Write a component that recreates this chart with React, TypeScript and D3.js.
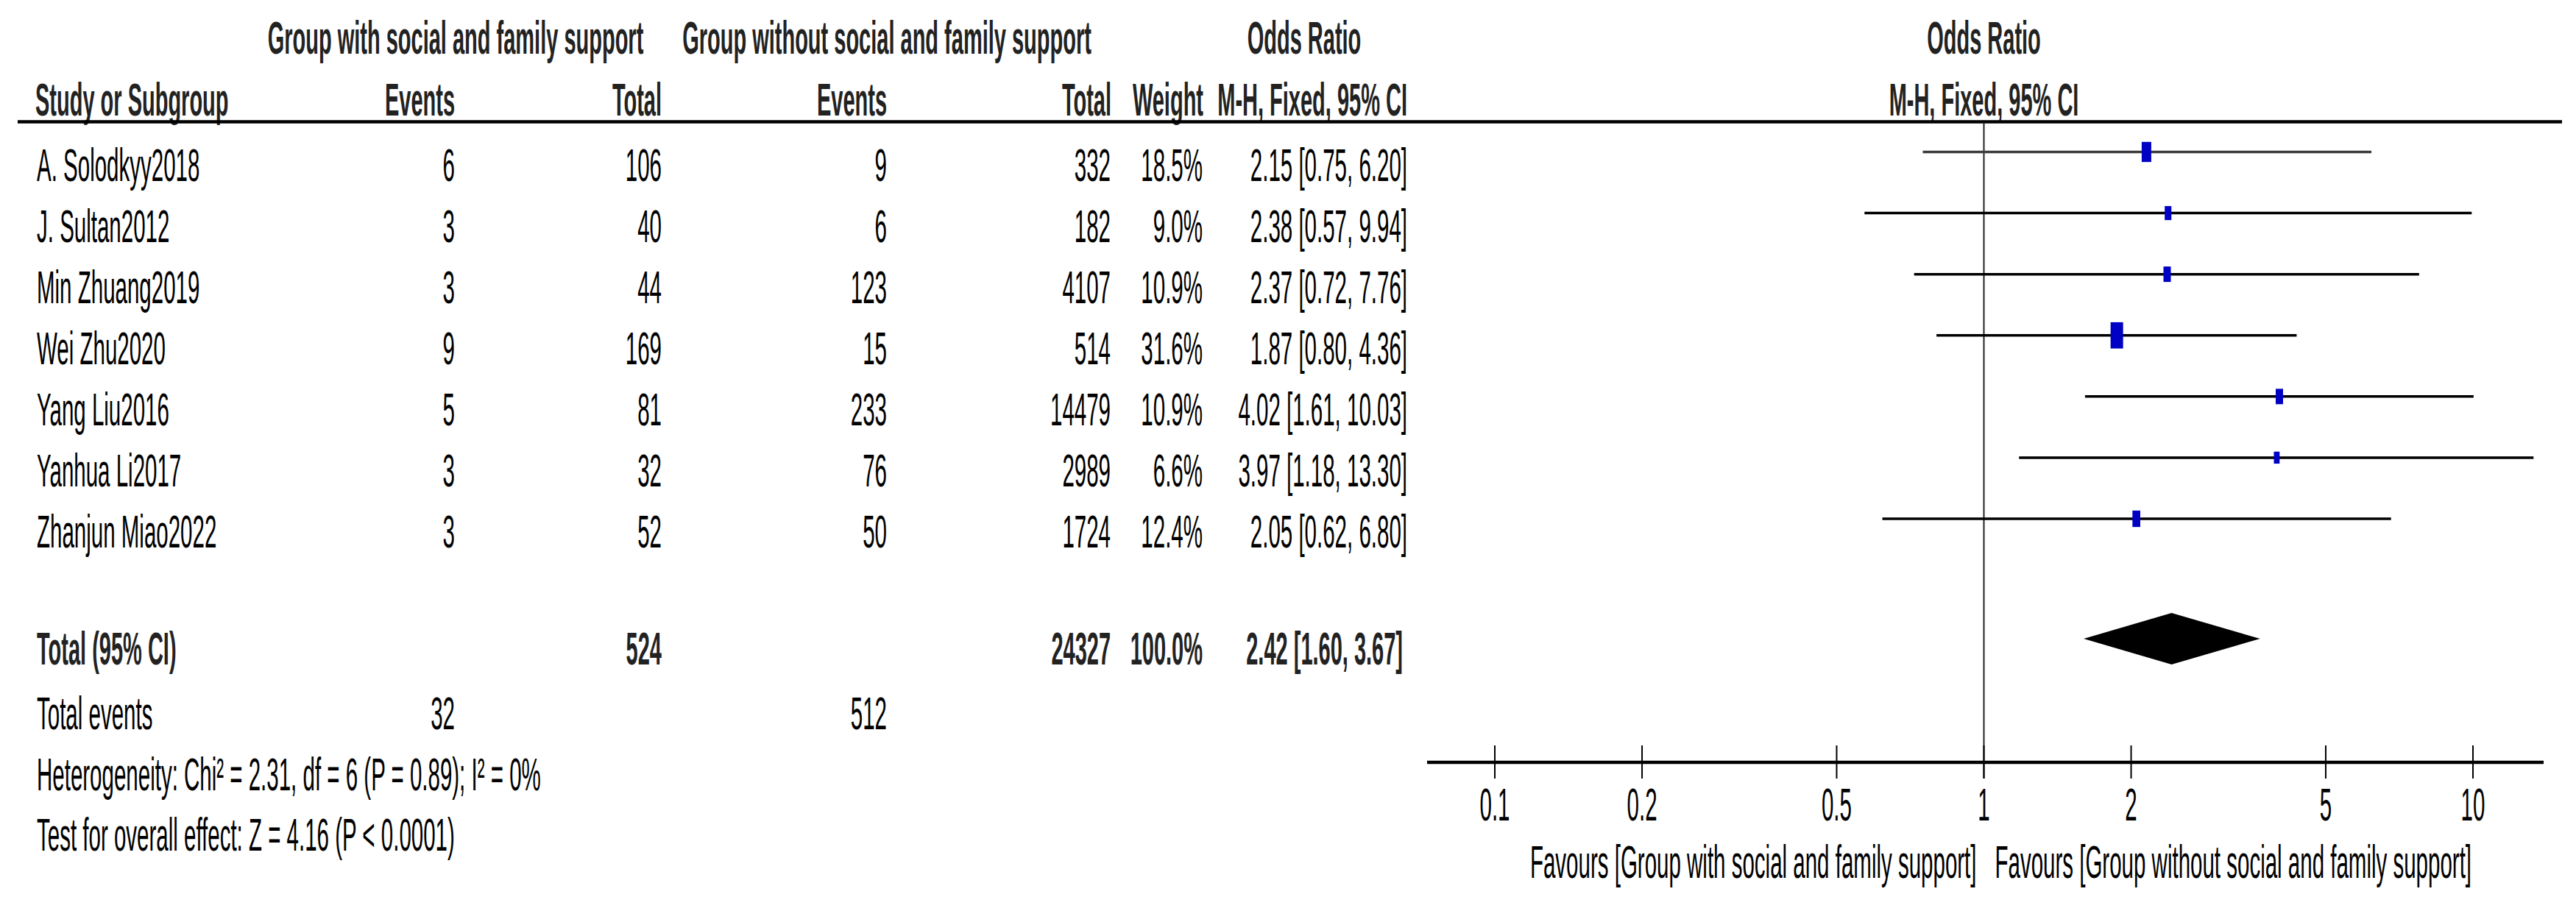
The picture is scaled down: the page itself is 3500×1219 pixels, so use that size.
import React from "react";
import * as d3 from "d3";

// ---------- data ----------
const studies = [
  "A. Solodkyy2018",
  "J. Sultan2012",
  "Min Zhuang2019",
  "Wei Zhu2020",
  "Yang Liu2016",
  "Yanhua Li2017",
  "Zhanjun Miao2022",
];
const eventsWith = [6, 3, 3, 9, 5, 3, 3];
const totalWith = [106, 40, 44, 169, 81, 32, 52];
const eventsWithout = [9, 6, 123, 15, 233, 76, 50];
const totalWithout = [332, 182, 4107, 514, 14479, 2989, 1724];
const weights = [18.5, 9.0, 10.9, 31.6, 10.9, 6.6, 12.4];
const oddsRatio = [2.15, 2.38, 2.37, 1.87, 4.02, 3.97, 2.05];
const ciLower = [0.75, 0.57, 0.72, 0.8, 1.61, 1.18, 0.62];
const ciUpper = [6.2, 9.94, 7.76, 4.36, 10.03, 13.3, 6.8];

const pooled = { or: 2.42, lo: 1.6, hi: 3.67 };
const totals = { totalWith: 524, totalWithout: 24327, weight: "100.0%" };
const totalEvents = { with: 32, without: 512 };
const heterogeneityText = "Heterogeneity: Chi\u00B2 = 2.31, df = 6 (P = 0.89); I\u00B2 = 0%";
const overallText = "Test for overall effect: Z = 4.16 (P < 0.0001)";
const tickValues = [0.1, 0.2, 0.5, 1, 2, 5, 10];
const tickLabels = ["0.1", "0.2", "0.5", "1", "2", "5", "10"];
const favoursLeft = "Favours [Group with social and family support]";
const favoursRight = "Favours [Group without social and family support]";

// ---------- layout ----------
const W = 3500;
const H = 1219;
const SY = 2.15;
const FONT = "'Liberation Sans', Arial, Helvetica, sans-serif";

const x = d3.scaleLog().domain([0.1, 10]).range([2031, 3360]);
const rowY = d3.scaleLinear().domain([0, 6]).range([206.5, 705]);
const size = d3.scaleSqrt().domain([0, 31.6]).range([0, 17]);

const fmtCI = (o: number, l: number, u: number) =>
  `${o.toFixed(2)} [${l.toFixed(2)}, ${u.toFixed(2)}]`;

function T({
  x: tx,
  y,
  children,
  anchor = "start",
  bold = false,
  fill = "#000",
}: {
  x: number;
  y: number;
  children: React.ReactNode;
  anchor?: string;
  bold?: boolean;
  fill?: string;
}) {
  return (
    <text
      transform={`translate(${tx},${y}) scale(1,${SY})`}
      textAnchor={anchor as any}
      fontFamily={FONT}
      fontSize={bold ? 29 : 29.5}
      fontWeight={bold ? "bold" : "normal"}
      fill={fill}
    >
      {children}
    </text>
  );
}

const COL = {
  study: 50,
  ev1: 618,
  tot1: 899,
  ev2: 1205,
  tot2: 1509,
  weight: 1634,
  ci: 1912,
};

export default function App() {
  const x1 = x(1);
  const totalY = 868;
  const diamondH = 35;
  const diamond = [
    [x(pooled.lo), totalY],
    [x(pooled.or), totalY - diamondH],
    [x(pooled.hi), totalY],
    [x(pooled.or), totalY + diamondH],
  ];
  const diamondPath = d3.line()(diamond as [number, number][]) + "Z";
  const axisY = 1036;

  return (
    <svg
      width={W}
      height={H}
      style={{ position: "absolute", left: 0, top: 0 }}
      xmlns="http://www.w3.org/2000/svg"
    >
      <rect x={0} y={0} width={W} height={H} fill="#fff" />

      {/* header row 1 */}
      <T x={619} y={73} anchor="middle" bold fill="#222">
        Group with social and family support
      </T>
      <T x={1205} y={73} anchor="middle" bold fill="#222">
        Group without social and family support
      </T>
      <T x={1772} y={73} anchor="middle" bold fill="#222">
        Odds Ratio
      </T>
      <T x={x1} y={73} anchor="middle" bold fill="#222">
        Odds Ratio
      </T>

      {/* header row 2 */}
      <T x={48} y={157} bold fill="#222">Study or Subgroup</T>
      <T x={COL.ev1} y={157} anchor="end" bold fill="#222">Events</T>
      <T x={COL.tot1} y={157} anchor="end" bold fill="#222">Total</T>
      <T x={COL.ev2} y={157} anchor="end" bold fill="#222">Events</T>
      <T x={COL.tot2 + 1} y={157} anchor="end" bold fill="#222">Total</T>
      <T x={COL.weight + 1} y={157} anchor="end" bold fill="#222">Weight</T>
      <T x={COL.ci} y={157} anchor="end" bold fill="#222">M-H, Fixed, 95% CI</T>
      <T x={x1} y={157} anchor="middle" bold fill="#222">M-H, Fixed, 95% CI</T>

      <line x1={24} x2={3481} y1={165.5} y2={165.5} stroke="#000" strokeWidth={4.5} />

      {/* study rows */}
      {studies.map((s, i) => {
        const yb = rowY(i) + 39;
        return (
          <g key={s}>
            <T x={COL.study} y={yb}>{s}</T>
            <T x={COL.ev1} y={yb} anchor="end">{eventsWith[i]}</T>
            <T x={COL.tot1} y={yb} anchor="end">{totalWith[i]}</T>
            <T x={COL.ev2} y={yb} anchor="end">{eventsWithout[i]}</T>
            <T x={COL.tot2} y={yb} anchor="end">{totalWithout[i]}</T>
            <T x={COL.weight} y={yb} anchor="end">{weights[i].toFixed(1)}%</T>
            <T x={COL.ci} y={yb} anchor="end">
              {fmtCI(oddsRatio[i], ciLower[i], ciUpper[i])}
            </T>
          </g>
        );
      })}

      {/* vertical line of no effect */}
      <line x1={x1} x2={x1} y1={166} y2={1058} stroke="#222" strokeWidth={2} />

      {/* CI lines and markers */}
      {studies.map((s, i) => {
        const y = rowY(i);
        const w = size(weights[i]);
        const h = w * 2.1;
        return (
          <g key={"m" + s}>
            <line
              x1={x(ciLower[i])}
              x2={x(ciUpper[i])}
              y1={y}
              y2={y}
              stroke={i === 0 ? "#3c3c3c" : "#000"}
              strokeWidth={3.5}
            />
            <rect
              x={x(oddsRatio[i]) - w / 2}
              y={y - h / 2}
              width={w}
              height={h}
              fill="#0000c4"
            />
          </g>
        );
      })}

      {/* total row */}
      <T x={COL.study} y={903} bold fill="#222">Total (95% CI)</T>
      <T x={COL.tot1} y={903} anchor="end" bold fill="#222">{totals.totalWith}</T>
      <T x={COL.tot2} y={903} anchor="end" bold fill="#222">{totals.totalWithout}</T>
      <T x={COL.weight} y={903} anchor="end" bold fill="#222">{totals.weight}</T>
      <T x={COL.ci - 6} y={903} anchor="end" bold fill="#222">
        {fmtCI(pooled.or, pooled.lo, pooled.hi)}
      </T>
      <path d={diamondPath} fill="#000" />

      <T x={COL.study} y={991}>Total events</T>
      <T x={COL.ev1} y={991} anchor="end">{totalEvents.with}</T>
      <T x={COL.ev2} y={991} anchor="end">{totalEvents.without}</T>
      <T x={COL.study} y={1074}>{heterogeneityText}</T>
      <T x={COL.study} y={1156}>{overallText}</T>

      {/* axis */}
      <line
        x1={x(0.1) - 92}
        x2={x(10) + 96}
        y1={axisY}
        y2={axisY}
        stroke="#000"
        strokeWidth={4.5}
      />
      {tickValues.map((t, i) => (
        <g key={"t" + t}>
          <line x1={x(t)} x2={x(t)} y1={1013} y2={1058} stroke="#000" strokeWidth={2} />
          <T x={x(t)} y={1115} anchor="middle">{tickLabels[i]}</T>
        </g>
      ))}
      <T x={x1 - 10} y={1193} anchor="end">{favoursLeft}</T>
      <T x={x1 + 15} y={1193}>{favoursRight}</T>
    </svg>
  );
}
